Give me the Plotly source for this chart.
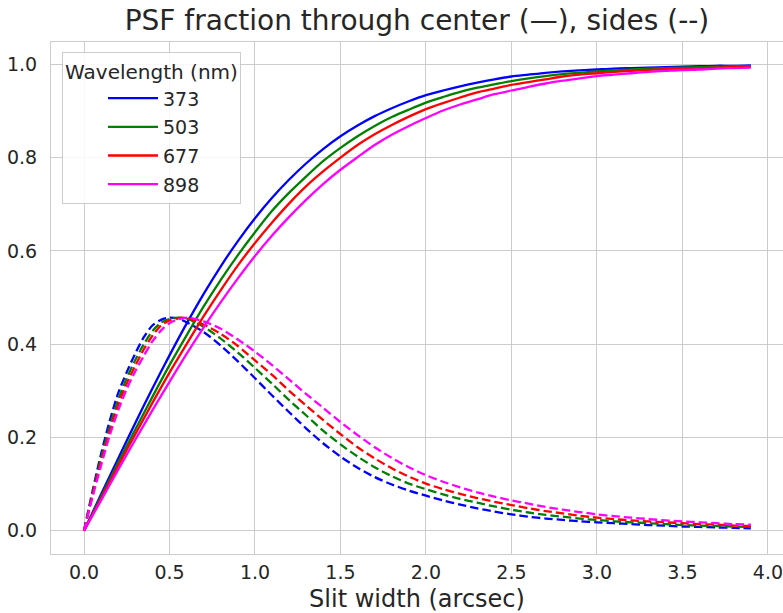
import plotly.graph_objects as go

# ---- data ----
wavelengths = ["373", "503", "677", "898"]
colors = ["#0000ff", "#008000", "#ff0000", "#ff00ff"]

x_center = [0.0, 0.1, 0.2, 0.3, 0.4, 0.5, 0.6, 0.7, 0.8, 0.9,
            1.0, 1.1, 1.2, 1.3, 1.4, 1.5, 1.6, 1.7, 1.8, 1.9,
            2.0, 2.1, 2.2, 2.3, 2.4, 2.5, 2.6, 2.7, 2.8, 2.9,
            3.0, 3.1, 3.2, 3.3, 3.4, 3.5, 3.6, 3.7, 3.8, 3.9]

center_373 = [0.0, 0.078, 0.155, 0.231, 0.305, 0.376, 0.444, 0.508, 0.567, 0.621,
              0.670, 0.714, 0.753, 0.788, 0.819, 0.846, 0.869, 0.889, 0.906, 0.921,
              0.934, 0.944, 0.953, 0.961, 0.968, 0.974, 0.978, 0.982, 0.985, 0.987,
              0.989, 0.991, 0.992, 0.993, 0.994, 0.995, 0.996, 0.997, 0.997, 0.998]
center_503 = [0.0, 0.073, 0.146, 0.217, 0.287, 0.355, 0.419, 0.481, 0.538, 0.591,
              0.640, 0.686, 0.725, 0.760, 0.793, 0.821, 0.846, 0.868, 0.887, 0.903,
              0.918, 0.930, 0.941, 0.950, 0.957, 0.964, 0.970, 0.975, 0.979, 0.982,
              0.985, 0.987, 0.989, 0.991, 0.992, 0.993, 0.994, 0.995, 0.996, 0.996]
center_677 = [0.0, 0.069, 0.139, 0.207, 0.274, 0.339, 0.400, 0.460, 0.516, 0.569,
              0.617, 0.661, 0.702, 0.739, 0.771, 0.800, 0.827, 0.850, 0.870, 0.888,
              0.904, 0.917, 0.929, 0.940, 0.948, 0.956, 0.962, 0.968, 0.974, 0.978,
              0.981, 0.984, 0.986, 0.988, 0.990, 0.991, 0.992, 0.993, 0.994, 0.995]
center_898 = [0.0, 0.065, 0.131, 0.195, 0.258, 0.319, 0.379, 0.436, 0.490, 0.541,
              0.589, 0.633, 0.673, 0.710, 0.744, 0.774, 0.801, 0.827, 0.849, 0.868,
              0.885, 0.901, 0.914, 0.925, 0.936, 0.944, 0.952, 0.959, 0.965, 0.970,
              0.975, 0.978, 0.981, 0.984, 0.986, 0.988, 0.989, 0.991, 0.992, 0.993]

x_sides = [0.0, 0.05, 0.1, 0.15, 0.2, 0.25, 0.3, 0.35, 0.4, 0.45, 0.5, 0.55,
           0.6, 0.7, 0.8, 0.9, 1.0, 1.1, 1.2, 1.3, 1.4, 1.5, 1.6, 1.7, 1.8, 1.9,
           2.0, 2.1, 2.2, 2.3, 2.4, 2.5, 2.6, 2.7, 2.8, 2.9,
           3.0, 3.1, 3.2, 3.3, 3.4, 3.5, 3.6, 3.7, 3.8, 3.9]

sides_373 = [0.0, 0.085, 0.165, 0.235, 0.295, 0.340, 0.380, 0.415, 0.440, 0.452, 0.457, 0.455,
             0.447, 0.426, 0.397, 0.363, 0.327, 0.290, 0.254, 0.219, 0.187, 0.159, 0.135, 0.115, 0.099, 0.086,
             0.075, 0.065, 0.056, 0.048, 0.041, 0.035, 0.030, 0.026, 0.023, 0.020,
             0.018, 0.016, 0.014, 0.012, 0.011, 0.009, 0.008, 0.007, 0.006, 0.005]
sides_503 = [0.0, 0.080, 0.156, 0.222, 0.281, 0.327, 0.366, 0.400, 0.428, 0.446, 0.454, 0.457,
             0.455, 0.437, 0.412, 0.382, 0.349, 0.315, 0.280, 0.247, 0.214, 0.185, 0.159, 0.136, 0.117, 0.101,
             0.089, 0.078, 0.068, 0.060, 0.052, 0.045, 0.039, 0.034, 0.030, 0.026,
             0.023, 0.020, 0.018, 0.016, 0.014, 0.012, 0.011, 0.010, 0.009, 0.008]
sides_677 = [0.0, 0.077, 0.148, 0.213, 0.270, 0.316, 0.354, 0.389, 0.418, 0.440, 0.451, 0.456,
             0.456, 0.442, 0.422, 0.396, 0.365, 0.334, 0.300, 0.268, 0.237, 0.207, 0.179, 0.155, 0.134, 0.116,
             0.101, 0.089, 0.079, 0.070, 0.062, 0.055, 0.048, 0.042, 0.037, 0.032,
             0.028, 0.025, 0.022, 0.020, 0.018, 0.016, 0.014, 0.013, 0.011, 0.010]
sides_898 = [0.0, 0.072, 0.140, 0.204, 0.258, 0.304, 0.342, 0.375, 0.406, 0.429, 0.445, 0.453,
             0.457, 0.449, 0.433, 0.410, 0.384, 0.355, 0.324, 0.293, 0.263, 0.233, 0.205, 0.179, 0.156, 0.136,
             0.119, 0.105, 0.093, 0.082, 0.073, 0.065, 0.058, 0.051, 0.045, 0.040,
             0.035, 0.031, 0.028, 0.025, 0.022, 0.020, 0.018, 0.016, 0.014, 0.013]

center_series = [center_373, center_503, center_677, center_898]
sides_series = [sides_373, sides_503, sides_677, sides_898]

x_tickvals = [0.0, 0.5, 1.0, 1.5, 2.0, 2.5, 3.0, 3.5, 4.0]
y_tickvals = [0.0, 0.2, 0.4, 0.6, 0.8, 1.0]

# ---- figure ----
FONT = "DejaVu Sans"
TXT = "#262626"
GRID = "#cccccc"
LW = 2.3

fig = go.Figure()
for i, wl in enumerate(wavelengths):
    fig.add_trace(go.Scatter(
        x=x_center, y=center_series[i], mode="lines", name=wl,
        legendgroup=wl, line=dict(color=colors[i], width=LW, shape="spline", smoothing=0.8),
    ))
    fig.add_trace(go.Scatter(
        x=x_sides, y=sides_series[i], mode="lines", name=wl + " sides",
        legendgroup=wl, showlegend=False,
        line=dict(color=colors[i], width=LW, dash="8.5px,4px", shape="spline", smoothing=0.8),
    ))

fig.update_layout(
    width=783, height=613,
    margin=dict(l=51, r=0, t=42, b=59),
    paper_bgcolor="white", plot_bgcolor="white",
    font=dict(family=FONT, color=TXT, size=19),
    title=dict(text="PSF fraction through center (—), sides (--)",
               x=0.5, xref="paper", xanchor="center", y=0.967, yanchor="middle",
               font=dict(size=28, color=TXT, family=FONT)),
    showlegend=True,
    legend=dict(
        x=0.015, y=0.98, xanchor="left", yanchor="top",
        bgcolor="rgba(255,255,255,0.85)", bordercolor=GRID, borderwidth=1,
        title=dict(text="Wavelength (nm)", side="top center", font=dict(size=20, color=TXT)),
        font=dict(size=19, color=TXT),
        tracegroupgap=1, indentation=40, itemwidth=50,
    ),
)

fig.update_xaxes(
    range=[-0.193, 4.088], tickvals=x_tickvals, tickformat=".1f",
    showgrid=True, gridcolor=GRID, gridwidth=1.2,
    showline=True, linecolor=GRID, linewidth=1.2, mirror=True,
    zeroline=False, ticks="outside", ticklen=1, tickcolor="rgba(0,0,0,0)",
    tickfont=dict(size=19, color=TXT, family=FONT), automargin=False,
    ticklabeloverflow="allow",
    title=dict(text="Slit width (arcsec)", font=dict(size=24, color=TXT, family=FONT), standoff=18),
)
fig.update_yaxes(
    range=[-0.05, 1.048], tickvals=y_tickvals, tickformat=".1f",
    showgrid=True, gridcolor=GRID, gridwidth=1.2,
    showline=True, linecolor=GRID, linewidth=1.2, mirror=True,
    zeroline=False, ticks="outside", ticklen=9, tickcolor="rgba(0,0,0,0)",
    tickfont=dict(size=19, color=TXT, family=FONT), automargin=False,
    ticklabeloverflow="allow",
)

fig.write_html("out.html", config={"displayModeBar": False},
               post_script="document.body.style.margin='0';document.body.style.padding='0';")
